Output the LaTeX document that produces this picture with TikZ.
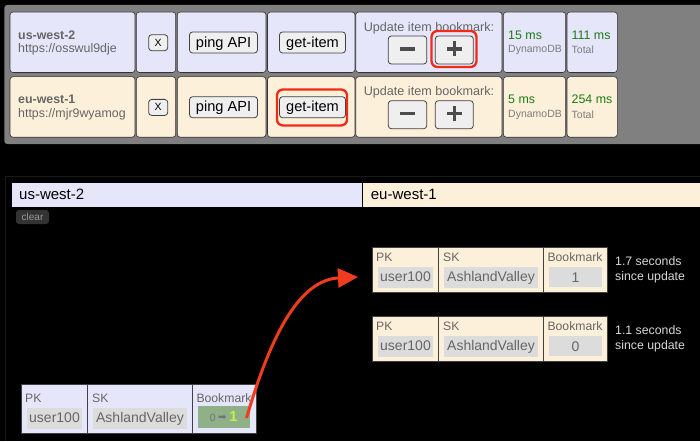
\documentclass[tikz,border=0pt]{standalone}
\usepackage{fontspec}
\setmainfont{Liberation Sans}
\newfontfamily\symfont{DejaVu Sans}
\usetikzlibrary{arrows.meta}
\definecolor{usblue}{HTML}{E6E6FA}
\definecolor{eucream}{HTML}{FDF0DA}
\definecolor{panelgray}{HTML}{808080}
\definecolor{btngray}{HTML}{EFEFEF}
\definecolor{cellgray}{HTML}{DCDCDC}
\definecolor{markred}{HTML}{F03C1E}
\definecolor{ringred}{HTML}{F02A14}
\definecolor{txtgray}{HTML}{666666}
\definecolor{msgreen}{HTML}{1E7A14}
\definecolor{flashgreen}{HTML}{8FB088}
\definecolor{newgreen}{HTML}{C4F53C}
\tikzset{
  tile/.style={draw=black!80,line width=.6pt,rounded corners=3pt},
  btn/.style={draw=black!75,fill=btngray,line width=.8pt,rounded corners=3pt},
  ring/.style={draw=ringred,line width=2.3pt,rounded corners=6pt},
  cell/.style={draw=black!75,line width=.7pt},
  val/.style={fill=cellgray,text=txtgray,font=\fontsize{14}{16}\selectfont},
  small/.style={text=txtgray,font=\fontsize{12.2}{14}\selectfont},
  glyph/.style={line width=3.2pt,black!70},
  celltext/.style={text=txtgray,inner sep=0pt,text height=10pt,text depth=3pt,font=\fontsize{14}{16}\selectfont},
}
% one row of the control panel: #1 fill, #2 top, #3 name, #4 url, #5 db ms, #6 total ms
\newcommand{\regionrow}[6]{
  \draw[tile,fill=#1] (10,#2) rectangle (135,{#2+60.5});
  \draw[tile,fill=#1] (136.3,#2) rectangle (175.7,{#2+60.5});
  \draw[tile,fill=#1] (177.3,#2) rectangle (266,{#2+60.5});
  \draw[tile,fill=#1] (267.5,#2) rectangle (355,{#2+60.5});
  \draw[tile,fill=#1] (355.7,#2) rectangle (502,{#2+60.5});
  \draw[tile,fill=#1] (503.3,#2) rectangle (565.7,{#2+60.5});
  \draw[tile,fill=#1] (567,#2) rectangle (617.3,{#2+60.5});
  \node[anchor=west,inner xsep=0pt,text=txtgray,font=\bfseries\fontsize{12.4}{14}\selectfont] at (18,{#2+23}) {#3};
  \node[anchor=west,inner xsep=0pt,text=txtgray,font=\fontsize{12.4}{14}\selectfont] at (18,{#2+37.3}) {#4};
  \draw[btn] (148.7,{#2+22.7}) rectangle (167.7,{#2+38.7});
  \node[font=\fontsize{10.5}{12}\selectfont] at (158.2,{#2+30.5}) {X};
  \draw[btn] (189.5,{#2+20}) rectangle (257.5,{#2+41});
  \node[font=\fontsize{14.6}{16}\selectfont] at (223.5,{#2+31.3}) {ping API};
  \draw[btn] (279.5,{#2+20}) rectangle (345.5,{#2+41});
  \node[font=\fontsize{14.6}{16}\selectfont] at (312.5,{#2+31.3}) {get-item};
  \node[text=txtgray,font=\fontsize{12.6}{14}\selectfont] at (429,{#2+16}) {Update item bookmark:};
  \draw[btn] (388.3,{#2+24}) rectangle (426.7,{#2+52});
  \draw[btn] (435.3,{#2+24}) rectangle (473.3,{#2+52});
  \draw[glyph] (400,{#2+37}) -- (415,{#2+37});
  \draw[glyph] (447,{#2+37}) -- (462,{#2+37});
  \draw[glyph] (454.5,{#2+29.5}) -- (454.5,{#2+44.5});
  \node[anchor=west,inner xsep=0pt,text=msgreen,font=\fontsize{12.4}{14}\selectfont] at (508,{#2+23}) {#5};
  \node[anchor=west,inner xsep=0pt,text=txtgray!85,font=\fontsize{10.5}{12}\selectfont] at (508,{#2+38}) {DynamoDB};
  \node[anchor=west,inner xsep=0pt,text=msgreen,font=\fontsize{12.4}{14}\selectfont] at (571.5,{#2+23}) {#6};
  \node[anchor=west,inner xsep=0pt,text=txtgray!85,font=\fontsize{10.5}{12}\selectfont] at (571.5,{#2+38}) {Total};
}
% one item of the table: #1 fill, #2 left, #3 top, #4 extra height above the labels
\newcommand{\itemrow}[4]{
  \draw[cell,fill=#1] (#2,#3) rectangle ({#2+66.5},{#3+#4+45.5});
  \draw[cell,fill=#1] ({#2+66.5},#3) rectangle ({#2+171},{#3+#4+45.5});
  \draw[cell,fill=#1] ({#2+171},#3) rectangle ({#2+235},{#3+#4+45.5});
  \node[small,anchor=west,inner sep=0pt] at ({#2+4},{#3+#4+10}) {PK};
  \node[small,anchor=west,inner sep=0pt] at ({#2+71},{#3+#4+10}) {SK};
  \node[small,anchor=center,inner sep=0pt] at ({#2+203},{#3+#4+10}) {Bookmark};
  \fill[cellgray] ({#2+6},{#3+#4+20}) rectangle ({#2+61},{#3+#4+40.5});
  \fill[cellgray] ({#2+72},{#3+#4+20}) rectangle ({#2+166},{#3+#4+40.5});
  \node[celltext] at ({#2+33.5},{#3+#4+30.8}) {user100};
  \node[celltext] at ({#2+119},{#3+#4+30.8}) {AshlandValley};
}
\begin{document}
\begin{tikzpicture}[x=1pt,y=-1pt]
\useasboundingbox (0,0) rectangle (700,441);
\fill[black] (0,0) rectangle (700,441);
% control panel
\fill[panelgray,rounded corners=3pt] (4.3,5) rectangle (720,144);
\regionrow{usblue}{12}{us-west-2}{https://osswul9dje}{15 ms}{111 ms}
\regionrow{eucream}{76.7}{eu-west-1}{https://mjr9wyamog}{5 ms}{254 ms}
\draw[ring] (277,89.5) rectangle (347,125.5);
\draw[ring] (431.5,31) rectangle (476.5,67);
% table
\draw[black!90!white,line width=.6pt] (5,441) -- (5,176) -- (700,176);
\node[fill=usblue,draw=black,line width=.5pt,minimum width=351pt,minimum height=25pt,anchor=north west,inner sep=0pt] (usHead) at (10.7,181.7) {};
\node[fill=eucream,draw=black,line width=.5pt,minimum width=340pt,minimum height=25pt,anchor=north west,inner sep=0pt] (euHead) at (361.7,181.7) {};
\node[anchor=west,inner sep=0pt,font=\fontsize{15}{17}\selectfont] at (19,194) {us-west-2};
\node[anchor=west,inner sep=0pt,font=\fontsize{15}{17}\selectfont] at (370.7,194) {eu-west-1};
\node[fill=black!80,text=white!60!black,rounded corners=3pt,minimum width=33pt,minimum height=14pt,inner sep=0pt,font=\fontsize{10}{11}\selectfont] (clearBtn) at (32.5,217) {clear};
\itemrow{eucream}{372}{247}{0}
\node[val,minimum width=53pt,minimum height=20.5pt,inner sep=0pt] (newVal) at (575.5,277.2) {1};
\node[anchor=west,text=white!85!black,font=\fontsize{12.3}{14.4}\selectfont,align=left,inner sep=0pt] at (615,270) {1.7 seconds\\since update};
\itemrow{eucream}{372}{316}{0}
\node[val,minimum width=53pt,minimum height=20.5pt,inner sep=0pt] (oldVal) at (575.5,346.2) {0};
\node[anchor=west,text=white!85!black,font=\fontsize{12.3}{14.4}\selectfont,align=left,inner sep=0pt] at (615,339) {1.1 seconds\\since update};
\itemrow{usblue}{21}{384}{4}
\node[fill=flashgreen,minimum width=52pt,minimum height=22pt,inner sep=0pt] (srcVal) at (224,417) {};
\node[text=black!55,font=\fontsize{10.5}{12}\selectfont,inner sep=0pt] at (212.7,418) {0};
\node[text=black!55,font=\symfont\fontsize{10}{11}\selectfont,inner sep=0pt] at (222.3,417.5) {➡};
\node[text=newgreen,font=\bfseries\fontsize{14.5}{16}\selectfont,inner sep=0pt] at (233.5,417) {1};
\coordinate (arrowStart) at (246.5,418);
\coordinate (arrowEnd) at (358,277);
\draw[markred,line width=3pt,-{Triangle[length=20pt,width=19pt]}] (arrowStart) .. controls (268,345) and (296,280) .. (arrowEnd);
\end{tikzpicture}
\end{document}
